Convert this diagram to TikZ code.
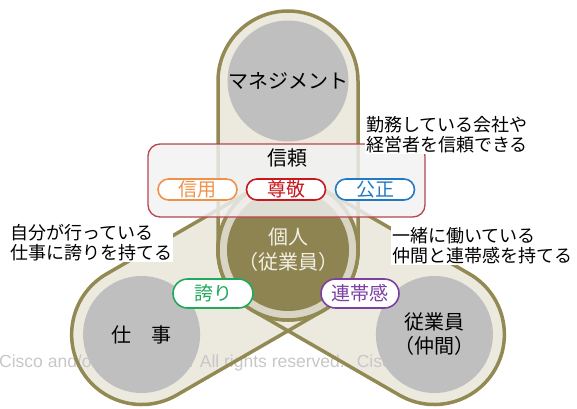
\documentclass[tikz,border=0pt]{standalone}
\usepackage{fontspec}
\setmainfont{Noto Sans CJK JP}
\newfontfamily\wmfont{Liberation Sans}
\usetikzlibrary{shapes.misc}
\definecolor{armfill}{HTML}{ECE9DF}
\definecolor{armline}{HTML}{928953}
\definecolor{hubring}{HTML}{D9D5C5}
\definecolor{hubfill}{HTML}{8E8451}
\definecolor{hubtext}{HTML}{F2EFE4}
\definecolor{endfill}{HTML}{BFBFBF}
\definecolor{boxfill}{HTML}{F2F2F2}
\definecolor{trustred}{HTML}{B9434E}
\definecolor{pillorange}{HTML}{F0914A}
\definecolor{pillred}{HTML}{C8171F}
\definecolor{pillblue}{HTML}{2179C6}
\definecolor{pillgreen}{HTML}{1EAA5A}
\definecolor{pillpurple}{HTML}{7B40A1}
\begin{document}
\begin{tikzpicture}[x=1pt, y=1pt,
  endcircle/.style={circle, fill=endfill, minimum size=117pt, inner sep=0pt, align=center,
    font=\fontsize{20}{24}\selectfont},
  pill/.style={rounded rectangle, draw=#1, text=#1, fill=white, line width=1.6pt,
    minimum width=79pt, minimum height=21pt, inner sep=0pt, font=\fontsize{19}{19}\selectfont},
  note/.style={fill=white, inner sep=1pt, align=left, font=\fontsize{18}{20}\selectfont}]
\useasboundingbox (0,0) rectangle (577,408);
\coordinate (hub) at (288,158);
% three arms, fills first
\foreach \ang in {90,210,330}
  \fill[armfill, shift={(hub)}, rotate=\ang]
    (0,-70) -- (169,-70) arc[start angle=-90, end angle=90, radius=70]
    -- (0,70) arc[start angle=90, end angle=270, radius=70] -- cycle;
\node[anchor=west, inner sep=0pt, text=black!22, font=\wmfont\fontsize{17.5}{17.5}\selectfont]
  (wm) at (-1,45) {Cisco and/or its affiliates. All rights reserved.\hspace{12pt}Cisco};
\foreach \ang in {90,210,330}
  \draw[armline, line width=3.5pt, shift={(hub)}, rotate=\ang]
    (0,-70) -- (169,-70) arc[start angle=-90, end angle=90, radius=70]
    -- (0,70) arc[start angle=90, end angle=270, radius=70] -- cycle;
% ends
\node[endcircle] (mgmt) at (288,327) {マネジメント};
\node[endcircle] (work) at (141.6,73.5) {仕　事};
\node[endcircle] (peers) at (434.4,73.5) {従業員\\（仲間）};
% hub
\node[circle, fill=hubring, draw=armline, line width=3.5pt, minimum size=140pt] (ring) at (hub) {};
\node[circle, fill=hubfill, minimum size=122pt, inner sep=0pt, align=center, text=hubtext,
  font=\fontsize{20}{25}\selectfont] (self) at (hub) {個人\\（従業員）};
% trust box
\node[draw=trustred, line width=1.3pt, rounded corners=12pt, fill=boxfill, fill opacity=0.82,
  minimum width=277pt, minimum height=73pt] (trust) at (286.5,227.5) {};
\node[font=\fontsize{20}{20}\selectfont] (trusttitle) at (287,250) {信頼};
\node[pill=pillorange] (credit) at (197.5,218.5) {信用};
\node[pill=pillred] (respect) at (286,218.5) {尊敬};
\node[pill=pillblue] (fair) at (375,218.5) {公正};
\node[pill=pillgreen, minimum width=80pt, minimum height=29pt] (pride) at (213,114.5) {誇り};
\node[pill=pillpurple, minimum width=78pt, minimum height=29pt] (bond) at (360,114.5) {連帯感};
% notes
\node[note, anchor=west] (notetrust) at (365,273) {勤務している会社や\\経営者を信頼できる};
\node[note, anchor=west] (notepride) at (9,165) {自分が行っている\\仕事に誇りを持てる};
\node[note, anchor=west] (notebond) at (391,162) {一緒に働いている\\仲間と連帯感を持てる};
\end{tikzpicture}
\end{document}
